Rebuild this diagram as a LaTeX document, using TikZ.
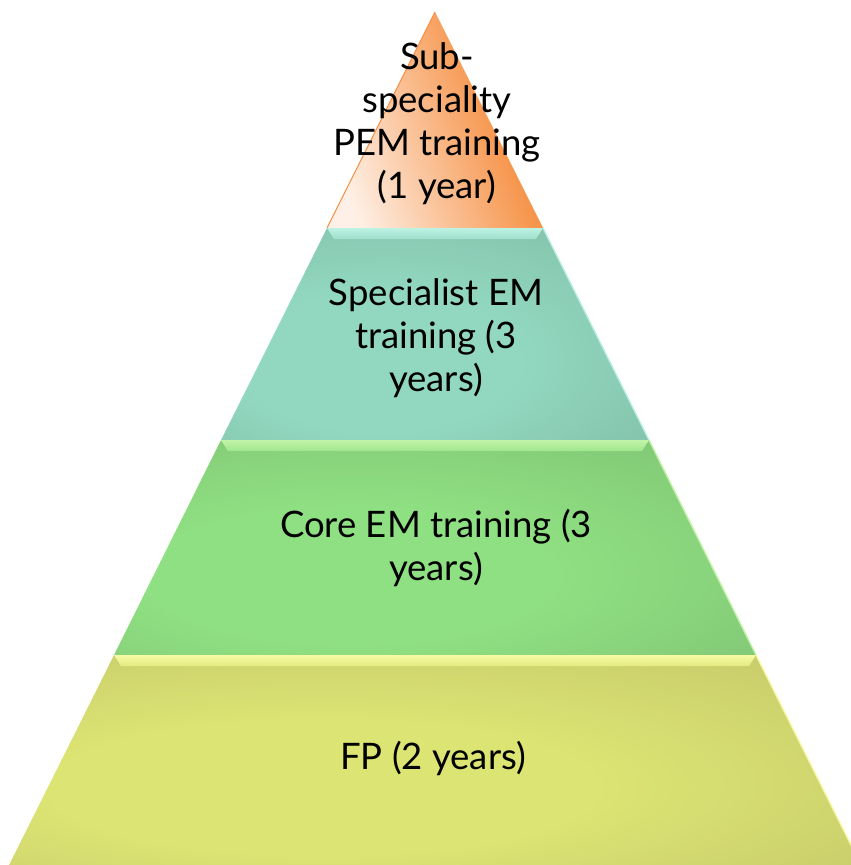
\documentclass[tikz,border=0pt]{standalone}
\usepackage{fontspec}
\setmainfont{Lato}
\definecolor{orL}{HTML}{FEF0E6}
\definecolor{orM}{HTML}{FAC9A4}
\definecolor{orR}{HTML}{F47A1E}
\definecolor{teM}{HTML}{92D8C0}
\definecolor{teR}{HTML}{76AD97}
\definecolor{teB}{HTML}{BDF2E4}
\definecolor{grM}{HTML}{8FE082}
\definecolor{grR}{HTML}{76B16A}
\definecolor{grB}{HTML}{C2F4A8}
\definecolor{yeM}{HTML}{DCE473}
\definecolor{yeR}{HTML}{B6B664}
\definecolor{yeB}{HTML}{F7FAA2}
\pgfdeclareradialshading{tesh}{\pgfpoint{-8bp}{-8bp}}{color(0bp)=(teM); color(16bp)=(teM); color(58bp)=(teR); color(90bp)=(teR)}
\pgfdeclareradialshading{grsh}{\pgfpoint{-8bp}{-8bp}}{color(0bp)=(grM); color(16bp)=(grM); color(58bp)=(grR); color(90bp)=(grR)}
\pgfdeclareradialshading{yesh}{\pgfpoint{-8bp}{-8bp}}{color(0bp)=(yeM); color(16bp)=(yeM); color(58bp)=(yeR); color(90bp)=(yeR)}
\tikzset{
  lbl/.style={align=center, font=\fontsize{36.5}{43}\selectfont, text=black, inner sep=0pt},
  edgehi/.style={line width=1.5pt, draw opacity=0.9}
}
\begin{document}
\begin{tikzpicture}[x=1pt,y=-1pt]
\useasboundingbox (0,0) rectangle (851,865);
% pyramid corner coordinates
\coordinate (apex) at (435,12);
\coordinate (a1l) at (327,228); \coordinate (a1r) at (543,228);
\coordinate (a2l) at (221,440); \coordinate (a2r) at (649,440);
\coordinate (a3l) at (114,655); \coordinate (a3r) at (756,655);
\coordinate (a4l) at (9,865);   \coordinate (a4r) at (861,865);
% top triangle
\shade[left color=orL, middle color=orM, right color=orR, shading angle=110] (apex) -- (a1r) -- (a1l) -- cycle;
\draw[orR!85, line width=1pt] (a1l) -- (apex);
% teal layer
\shade[shading=tesh] (a1l) -- (a1r) -- (a2r) -- (a2l) -- cycle;
\shade[top color=teB, bottom color=teM!70!teB] (a1l) -- (a1r) -- ([shift={(-7,11)}]a1r) -- ([shift={(7,11)}]a1l) -- cycle;
\draw[teB, edgehi] (a1r) -- (a2r);
% green layer
\shade[shading=grsh] (a2l) -- (a2r) -- (a3r) -- (a3l) -- cycle;
\shade[top color=grB, bottom color=grM!70!grB] (a2l) -- (a2r) -- ([shift={(-7,11)}]a2r) -- ([shift={(7,11)}]a2l) -- cycle;
\draw[grB, edgehi] (a2r) -- (a3r);
% yellow layer
\shade[shading=yesh] (a3l) -- (a3r) -- (a4r) -- (a4l) -- cycle;
\shade[top color=yeB, bottom color=yeM!70!yeB] (a3l) -- (a3r) -- ([shift={(-7,11)}]a3r) -- ([shift={(7,11)}]a3l) -- cycle;
\draw[yeB, edgehi] (a3r) -- (a4r);
% labels
\node[lbl] (t1) at (437,124) {Sub-\\speciality\\PEM training\\(1 year)};
\node[lbl] (t2) at (436,338) {Specialist EM\\training (3\\years)};
\node[lbl] (t3) at (436,548) {Core EM training (3\\years)};
\node[lbl] (t4) at (433,758) {FP (2 years)};
\end{tikzpicture}
\end{document}
